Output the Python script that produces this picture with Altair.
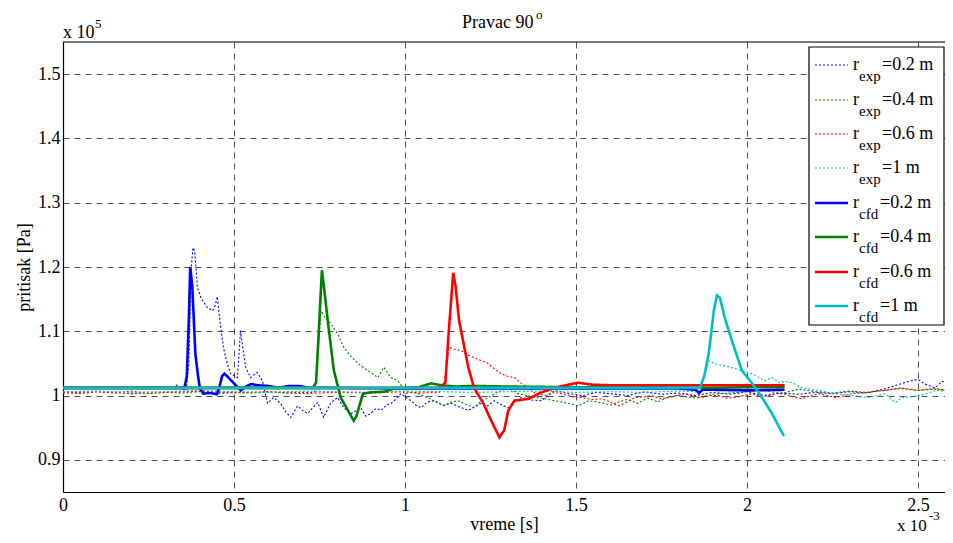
import altair as alt
import pandas as pd

# ---------------- data (x in 1e-3 s, y in 1e5 Pa) ----------------
exp02_t = [0.33, 0.345, 0.36, 0.368, 0.375, 0.38, 0.385, 0.393, 0.405, 0.422, 0.437, 0.445, 0.451, 0.458,
           0.469, 0.48, 0.49, 0.51, 0.519, 0.527, 0.534, 0.548, 0.568, 0.583, 0.598, 0.616, 0.636, 0.651,
           0.666, 0.686, 0.70, 0.716, 0.73, 0.745, 0.762, 0.783, 0.803, 0.821, 0.842, 0.86, 0.871, 0.885,
           0.9, 0.915, 0.93, 0.945, 0.959, 0.975, 0.988, 1.003, 1.018, 1.032, 1.047, 1.065, 1.085, 1.11,
           1.135, 1.16, 1.185, 1.205, 1.223, 1.242, 1.261, 1.28, 1.302, 1.32, 1.34, 1.37, 1.399, 1.437,
           1.478, 1.52, 1.56, 1.6, 1.65, 1.7, 1.75, 1.8, 1.85, 1.9, 1.95, 2.0, 2.05, 2.1, 2.15, 2.2, 2.25,
           2.3, 2.35, 2.4, 2.43, 2.46, 2.48, 2.5, 2.52, 2.55, 2.57, 2.59, 2.6]
exp02_p = [1.017, 1.012, 1.008, 1.05, 1.20, 1.23, 1.225, 1.168, 1.15, 1.137, 1.132, 1.14, 1.154, 1.12,
           1.075, 1.05, 1.034, 1.028, 1.101, 1.07, 1.044, 1.028, 1.036, 1.023, 0.988, 0.997, 0.988, 0.975,
           0.966, 0.984, 0.977, 0.972, 0.981, 0.989, 0.966, 0.989, 0.997, 0.981, 0.972, 0.977, 0.981, 0.968,
           0.972, 0.98, 0.977, 0.985, 0.988, 0.995, 1.003, 0.997, 0.992, 0.985, 0.981, 0.99, 0.992, 0.985,
           0.988, 0.982, 0.977, 0.983, 0.988, 0.984, 0.992, 0.986, 0.981, 0.99, 0.997, 0.993, 0.992, 1.008,
           1.003, 1.0, 1.005, 1.003, 1.0, 1.006, 1.002, 1.004, 1.0, 1.005, 1.002, 1.006, 1.0, 1.004, 1.002,
           1.005, 1.003, 1.006, 1.004, 1.01, 1.015, 1.02, 1.023, 1.025, 1.018, 1.012, 1.022, 1.02, 1.012]

exp04_t = [0.0, 0.05, 0.1, 0.15, 0.2, 0.25, 0.3, 0.35, 0.4, 0.45, 0.5, 0.55, 0.6, 0.65, 0.7, 0.735,
           0.745, 0.754, 0.768, 0.783, 0.803, 0.821, 0.84, 0.862, 0.891, 0.921, 0.938, 0.959, 0.979,
           0.99, 0.997, 1.02, 1.038, 1.06, 1.085, 1.114, 1.135, 1.155, 1.18, 1.202, 1.22, 1.243, 1.27,
           1.302, 1.331, 1.355, 1.378, 1.41, 1.437, 1.478, 1.507, 1.537, 1.575, 1.6, 1.625, 1.65, 1.68,
           1.71, 1.74, 1.77, 1.8, 1.85, 1.9, 1.95, 2.0, 2.05, 2.1, 2.15, 2.2, 2.25, 2.3, 2.35, 2.4, 2.45,
           2.5, 2.55, 2.6]
exp04_p = [1.005, 1.003, 1.006, 1.004, 1.007, 1.003, 1.005, 1.004, 1.006, 1.003, 1.005, 1.004, 1.006,
           1.004, 1.005, 1.005, 1.06, 1.132, 1.12, 1.112, 1.096, 1.075, 1.062, 1.05, 1.039, 1.028, 1.044,
           1.028, 1.023, 1.015, 1.003, 1.005, 1.003, 0.998, 0.992, 0.984, 0.99, 0.992, 0.986, 0.981, 0.99,
           0.997, 1.005, 1.012, 1.003, 1.0, 0.997, 0.995, 0.992, 0.988, 0.984, 0.992, 0.989, 0.985, 0.99,
           0.994, 0.988, 0.996, 0.99, 0.998, 1.0, 0.996, 1.002, 1.004, 1.006, 1.008, 1.003, 1.01, 1.006,
           1.004, 1.007, 1.005, 1.008, 1.012, 1.008, 1.01, 1.007]

exp06_t = [0.0, 0.1, 0.2, 0.3, 0.4, 0.5, 0.6, 0.7, 0.8, 0.9, 1.0, 1.05, 1.1, 1.115, 1.125, 1.129, 1.145,
           1.164, 1.185, 1.202, 1.22, 1.243, 1.26, 1.281, 1.3, 1.32, 1.34, 1.361, 1.38, 1.41, 1.437, 1.457,
           1.49, 1.516, 1.545, 1.575, 1.6, 1.624, 1.65, 1.672, 1.7, 1.721, 1.745, 1.771, 1.795, 1.818,
           1.845, 1.868, 1.89, 1.918, 1.94, 1.965, 1.99, 2.015, 2.04, 2.064, 2.09, 2.111, 2.135, 2.161,
           2.185, 2.211, 2.235, 2.258, 2.285, 2.308, 2.335, 2.358, 2.38, 2.405, 2.43, 2.455, 2.48, 2.504,
           2.53, 2.551, 2.575, 2.6]
exp06_p = [1.004, 1.006, 1.003, 1.005, 1.007, 1.004, 1.006, 1.003, 1.005, 1.004, 1.006, 1.004, 1.005,
           1.02, 1.06, 1.075, 1.072, 1.07, 1.063, 1.059, 1.055, 1.05, 1.042, 1.034, 1.03, 1.028, 1.019,
           1.012, 1.004, 1.0, 1.005, 1.003, 0.998, 0.997, 0.994, 0.995, 0.99, 0.984, 0.99, 0.997, 0.998,
           1.0, 0.995, 0.997, 1.0, 1.003, 0.999, 0.997, 1.0, 1.0, 0.996, 0.997, 1.0, 1.003, 0.998, 1.0,
           1.004, 1.002, 0.998, 0.995, 1.0, 1.003, 1.0, 0.997, 1.0, 1.003, 1.004, 1.005, 1.007, 1.008,
           1.01, 1.011, 1.009, 1.008, 1.01, 1.011, 1.009, 1.008]

exp10_t = [0.0, 0.1, 0.2, 0.3, 0.4, 0.5, 0.6, 0.7, 0.8, 0.9, 1.0, 1.1, 1.2, 1.3, 1.4, 1.5, 1.6, 1.7,
           1.8, 1.86, 1.87, 1.888, 1.905, 1.926, 1.945, 1.965, 1.99, 2.015, 2.035, 2.053, 2.073, 2.094,
           2.11, 2.132, 2.161, 2.185, 2.211, 2.235, 2.258, 2.285, 2.308, 2.335, 2.358, 2.38, 2.405, 2.42,
           2.434, 2.445, 2.455, 2.48, 2.504, 2.53, 2.551, 2.575, 2.6]
exp10_p = [1.006, 1.007, 1.005, 1.006, 1.008, 1.006, 1.005, 1.007, 1.006, 1.005, 1.007, 1.006, 1.005,
           1.006, 1.007, 1.005, 1.006, 1.005, 1.007, 1.006, 1.02, 1.054, 1.05, 1.047, 1.045, 1.042, 1.038,
           1.034, 1.028, 1.023, 1.028, 1.02, 1.022, 1.02, 1.012, 1.01, 1.008, 1.005, 1.003, 1.001, 1.0,
           0.998, 0.997, 1.0, 1.003, 0.995, 0.989, 0.994, 0.997, 0.998, 1.0, 1.004, 1.008, 1.007, 1.008]

cfd02_t = [0.0, 0.2, 0.355, 0.362, 0.368, 0.372, 0.378, 0.387, 0.395, 0.40, 0.41, 0.43, 0.45, 0.458,
           0.465, 0.472, 0.48, 0.50, 0.52, 0.535, 0.55, 0.57, 0.6, 0.63, 0.66, 0.69, 0.72, 0.75, 1.0, 1.3,
           1.6, 1.8, 1.85, 1.86, 1.87, 1.9, 2.0, 2.11]
cfd02_p = [1.012, 1.012, 1.012, 1.03, 1.12, 1.20, 1.17, 1.065, 1.03, 1.012, 1.003, 1.004, 1.002, 1.015,
           1.03, 1.034, 1.03, 1.019, 1.008, 1.014, 1.018, 1.016, 1.015, 1.012, 1.015, 1.015, 1.012, 1.012,
           1.011, 1.011, 1.011, 1.011, 1.009, 1.004, 1.009, 1.009, 1.008, 1.009]

cfd04_t = [0.0, 0.73, 0.74, 0.748, 0.757, 0.765, 0.774, 0.792, 0.812, 0.833, 0.85, 0.858, 0.865, 0.877,
           0.9, 0.94, 0.968, 1.0, 1.04, 1.076, 1.106, 1.15, 1.2, 1.3, 1.5, 1.7, 1.9, 2.0, 2.11]
cfd04_p = [1.012, 1.012, 1.02, 1.10, 1.195, 1.16, 1.117, 1.039, 0.997, 0.977, 0.961, 0.968, 0.981,
           1.003, 1.005, 1.006, 1.011, 1.012, 1.013, 1.019, 1.016, 1.014, 1.015, 1.014, 1.013, 1.013,
           1.012, 1.013, 1.013]

cfd06_t = [0.0, 1.1, 1.118, 1.128, 1.141, 1.148, 1.158, 1.185, 1.202, 1.229, 1.252, 1.276, 1.29, 1.302,
           1.32, 1.361, 1.399, 1.437, 1.478, 1.507, 1.545, 1.6, 1.7, 1.8, 1.9, 2.0, 2.11]
cfd06_p = [1.012, 1.012, 1.02, 1.10, 1.191, 1.17, 1.117, 1.044, 1.012, 0.988, 0.961, 0.935, 0.946,
           0.977, 0.992, 0.995, 1.005, 1.012, 1.017, 1.02, 1.017, 1.016, 1.016, 1.016, 1.016, 1.016, 1.016]

cfd10_t = [0.0, 1.85, 1.862, 1.875, 1.888, 1.903, 1.912, 1.921, 1.935, 1.956, 1.985, 2.015, 2.044,
           2.073, 2.108]
cfd10_p = [1.012, 1.012, 1.012, 1.03, 1.065, 1.132, 1.156, 1.152, 1.121, 1.085, 1.039, 1.019, 0.997,
           0.972, 0.937]

series_names = ["exp02", "exp04", "exp06", "exp10", "cfd02", "cfd04", "cfd06", "cfd10"]
series_colors = ["#0000ff", "#008000", "#ff0000", "#00bfbf", "#0000ff", "#008000", "#ff0000", "#00bfbf"]
legend_sub = ["exp", "exp", "exp", "exp", "cfd", "cfd", "cfd", "cfd"]
legend_val = ["=0.2 m", "=0.4 m", "=0.6 m", "=1 m", "=0.2 m", "=0.4 m", "=0.6 m", "=1 m"]

x_ticks = [0, 0.5, 1, 1.5, 2, 2.5]
y_ticks = [0.9, 1.0, 1.1, 1.2, 1.3, 1.4, 1.5]

series_data = {
    "exp02": (exp02_t, exp02_p), "exp04": (exp04_t, exp04_p),
    "exp06": (exp06_t, exp06_p), "exp10": (exp10_t, exp10_p),
    "cfd02": (cfd02_t, cfd02_p), "cfd04": (cfd04_t, cfd04_p),
    "cfd06": (cfd06_t, cfd06_p), "cfd10": (cfd10_t, cfd10_p),
}

# ---------------- layout ----------------
W, H = 882, 450
FONT = "'Liberation Serif', 'Times New Roman', Times, serif"
XMAX = W / 342.0

xs = alt.Scale(domain=[0, XMAX], nice=False, zero=False)
ys = alt.Scale(domain=[0.85, 1.55], nice=False, zero=False)

xax = alt.Axis(values=x_ticks, format="~g", title="vreme [s]", grid=True, gridDash=[6, 5],
               gridColor="#222", gridWidth=0.8, ticks=False, labelPadding=4, labelFont=FONT,
               labelFontSize=18, labelColor="black", titleFont=FONT, titleFontSize=18,
               titleFontWeight="normal", titleColor="black", titlePadding=1,
               domainColor="black", domainWidth=1.2, labelFlush=False)
yax = alt.Axis(values=y_ticks, format="~g", title="pritisak [Pa]", grid=True, gridDash=[6, 5],
               gridColor="#222", gridWidth=0.8, ticks=False, labelPadding=3, labelFont=FONT,
               labelFontSize=18, labelColor="black", titleFont=FONT, titleFontSize=18,
               titleFontWeight="normal", titleColor="black", titleX=-34, titleY=H / 2,
               titleAngle=-90, titleAlign="center", titleBaseline="alphabetic",
               domainColor="black", domainWidth=1.2, labelFlush=False)

layers = []
for i, name in enumerate(series_names):
    t, p = series_data[name]
    df = pd.DataFrame({"t": t, "p": p})
    is_exp = name.startswith("exp")
    mk = alt.Chart(df).mark_line(
        color=series_colors[i],
        strokeWidth=1.1 if is_exp else 2.6,
        strokeDash=[2, 2] if is_exp else [1, 0],
        clip=True,
        interpolate="linear",
    ).encode(
        x=alt.X("t:Q", scale=xs, axis=xax),
        y=alt.Y("p:Q", scale=ys, axis=yax),
        order="t:Q",
    )
    layers.append(mk)

one = pd.DataFrame({"a": [0]})

# top border
layers.append(alt.Chart(one).mark_rule(color="black", strokeWidth=1.2).encode(
    x=alt.value(0), x2=alt.value(W), y=alt.value(0)))

# ---------------- legend ----------------
row_y = [23, 58, 92, 126, 161, 195, 230, 264]
LX0, LX1 = 746, 881
layers.append(alt.Chart(one).mark_rect(
    fill="white", stroke="black", strokeWidth=1.2).encode(
    x=alt.value(LX0), x2=alt.value(LX1), y=alt.value(5), y2=alt.value(283)))
for i in range(8):
    is_exp = legend_sub[i] == "exp"
    ry = row_y[i]
    layers.append(alt.Chart(one).mark_rule(
        color=series_colors[i], strokeWidth=1.1 if is_exp else 2.6,
        strokeDash=[2, 2] if is_exp else [1, 0]).encode(
        x=alt.value(LX0 + 6), x2=alt.value(LX0 + 39), y=alt.value(ry)))
    layers.append(alt.Chart(one).mark_text(font=FONT, fontSize=18, align="left",
                                           baseline="middle", color="black").encode(
        x=alt.value(LX0 + 44), y=alt.value(ry), text=alt.value("r")))
    layers.append(alt.Chart(one).mark_text(font=FONT, fontSize=15, align="left",
                                           baseline="middle", color="black").encode(
        x=alt.value(LX0 + 50), y=alt.value(ry + 11), text=alt.value(legend_sub[i])))
    layers.append(alt.Chart(one).mark_text(font=FONT, fontSize=18, align="left",
                                           baseline="middle", color="black").encode(
        x=alt.value(LX0 + (73 if is_exp else 71)), y=alt.value(ry), text=alt.value(legend_val[i])))

# ---------------- title and exponent annotations ----------------
ann_text = ["Pravac 90", "o", "x 10", "5", "x 10", "-3"]
ann_x = [399, 473, 0, 32, 834, 866]
ann_y = [-14, -23, -4, -14, 489, 478]
ann_fs = [18, 13, 18, 13, 17, 13]
for i in range(len(ann_text)):
    layers.append(alt.Chart(one).mark_text(
        font=FONT, fontSize=ann_fs[i], align="left", baseline="alphabetic", color="black").encode(
        x=alt.value(ann_x[i]), y=alt.value(ann_y[i]), text=alt.value(ann_text[i])))

chart = alt.layer(*layers).properties(
    width=W, height=H,
    autosize=alt.AutoSizeParams(type="none"),
    padding={"left": 55, "top": 34, "right": 0, "bottom": 43},
).configure_view(stroke=None).configure(background="white")

chart.save("out.html", embed_options={"renderer": "svg", "actions": False})
